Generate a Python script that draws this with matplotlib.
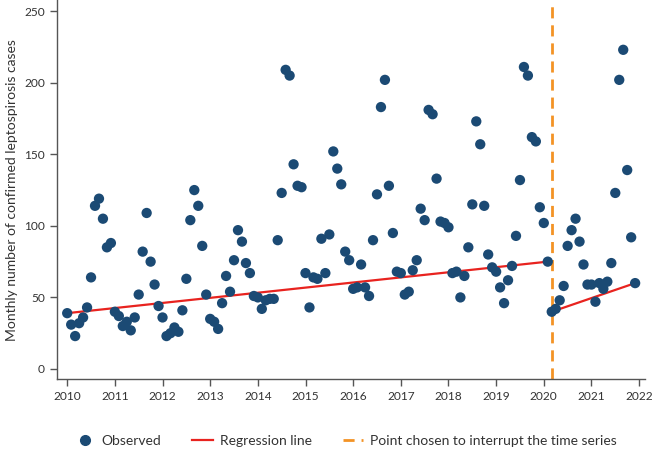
import numpy as np
import matplotlib
matplotlib.use('Agg')
import matplotlib.pyplot as plt
from matplotlib.lines import Line2D

plt.rcParams['font.family'] = ['Lato', 'DejaVu Sans']

# Monthly observed cases, Jan 2010 - Dec 2021
cases_2010 = [39, 31, 23, 32, 36, 43, 64, 114, 119, 105, 85, 88]
cases_2011 = [40, 37, 30, 33, 27, 36, 52, 82, 109, 75, 59, 44]
cases_2012 = [36, 23, 25, 29, 26, 41, 63, 104, 125, 114, 86, 52]
cases_2013 = [35, 33, 28, 46, 65, 54, 76, 97, 89, 74, 67, 51]
cases_2014 = [50, 42, 48, 49, 49, 90, 123, 209, 205, 143, 128, 127]
cases_2015 = [67, 43, 64, 63, 91, 67, 94, 152, 140, 129, 82, 76]
cases_2016 = [56, 57, 73, 57, 51, 90, 122, 183, 202, 128, 95, 68]
cases_2017 = [67, 52, 54, 69, 76, 112, 104, 181, 178, 133, 103, 102]
cases_2018 = [99, 67, 68, 50, 65, 85, 115, 173, 157, 114, 80, 71]
cases_2019 = [68, 57, 46, 62, 72, 93, 132, 211, 205, 162, 159, 113]
cases_2020 = [102, 75, 40, 42, 48, 58, 86, 97, 105, 89, 73, 59]
cases_2021 = [59, 47, 60, 56, 61, 74, 123, 202, 223, 139, 92, 60]

years = list(range(2010, 2022))
cases = (cases_2010 + cases_2011 + cases_2012 + cases_2013 + cases_2014 + cases_2015
         + cases_2016 + cases_2017 + cases_2018 + cases_2019 + cases_2020 + cases_2021)
t = np.array([y + m / 12 for y in years for m in range(12)])

# regression segments (start/end values) and the interruption point
break_t = 2020 + 2 / 12
reg1_t = [2010.0, 2020 + 1 / 12]
reg1_y = [39, 75]
reg2_t = [break_t, 2021 + 11 / 12]
reg2_y = [40, 60]

navy = '#1b4a74'
red = '#e8231f'
orange = '#f39325'

fig = plt.figure(figsize=(6.52, 4.51), dpi=100)
ax = fig.add_axes([0.087, 0.159, 0.902, 0.841])

ax.axvline(break_t, color=orange, lw=2.0, ls=(0, (4, 2.5)), zorder=1)
ax.plot(reg1_t, reg1_y, color=red, lw=1.6, zorder=2)
ax.plot(reg2_t, reg2_y, color=red, lw=1.6, zorder=2)
ax.scatter(t, cases, s=55, color=navy, edgecolors='none', zorder=3)

ax.set_xlim(2009.78, 2022.12)
ax.set_ylim(-7.2, 257.8)
ax.set_xticks(years + [2022])
ax.set_yticks([0, 50, 100, 150, 200, 250])

for side in ['top', 'right']:
    ax.spines[side].set_visible(False)
for side in ['left', 'bottom']:
    ax.spines[side].set_color('#555555')
    ax.spines[side].set_linewidth(1.0)
ax.tick_params(colors='#555555', labelcolor='#333333', labelsize=8.6, length=5, width=1.0)
ax.set_ylabel('Monthly number of confirmed leptospirosis cases', fontsize=10, color='#333333')

handles = [
    Line2D([], [], marker='o', ls='none', color=navy, markersize=7),
    Line2D([], [], color=red, lw=1.6),
    Line2D([], [], color=orange, lw=2.0, ls=(0, (4, 2.5))),
]
labels = ['Observed', 'Regression line', 'Point chosen to interrupt the time series']
leg = fig.legend(handles, labels, loc='center', bbox_to_anchor=(0.53, 0.022), ncol=3,
                 frameon=False, fontsize=10, handlelength=1.5, columnspacing=2.2,
                 handletextpad=0.5, labelcolor='#333333')

fig.savefig('out.png', dpi=100)
